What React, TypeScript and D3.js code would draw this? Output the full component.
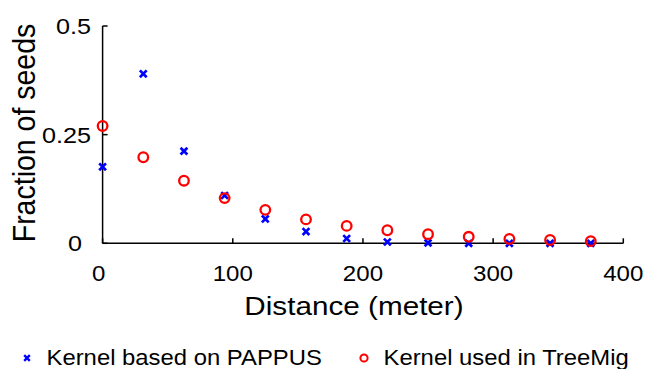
import React from "react";
import * as d3 from "d3";

const distances = [0, 31.25, 62.5, 93.75, 125, 156.25, 187.5, 218.75, 250, 281.25, 312.5, 343.75, 375];
const pappus = [0.176, 0.39, 0.212, 0.11, 0.056, 0.027, 0.011, 0.003, 0.001, 0.0, 0.0, 0.0, 0.0];
const treemig = [0.27, 0.198, 0.144, 0.104, 0.077, 0.055, 0.04, 0.03, 0.021, 0.015, 0.01, 0.0076, 0.005];
const xTicks = [0, 100, 200, 300, 400];
const yTicks = [0, 0.25, 0.5];
const yTickLabels = ["0", "0.25", "0.5"];
const seriesNames = ["Kernel based on PAPPUS", "Kernel used in TreeMig"];

const W = 648, H = 369;
const SX = 1.12;
const font = "'Liberation Sans', Arial, sans-serif";

export default function App() {
  const x = d3.scaleLinear().domain([0, 400]).range([102.6, 623.3]);
  const y = d3.scaleLinear().domain([0, 0.5]).range([243.3, 26]);
  const cross = (cx: number, cy: number, s: number, w: number, key: string) => (
    <path key={key} d={`M${cx - s},${cy - s}L${cx + s},${cy + s}M${cx - s},${cy + s}L${cx + s},${cy - s}`}
      stroke="#0000ff" strokeWidth={w} fill="none" />
  );
  const T = (props: { x: number; y: number; anchor: string; size: number; children: any; rotate?: boolean }) => (
    <text transform={props.rotate ? `translate(${props.x},${props.y}) rotate(-90) scale(1,${SX})` : `translate(${props.x},${props.y}) scale(${SX},1)`}
      textAnchor={props.anchor} fontSize={props.size} fontFamily={font} fill="#000">{props.children}</text>
  );
  return (
    <svg width={W} height={H} style={{ position: "absolute", left: 0, top: 0, background: "#fff" }}>
      <rect width={W} height={H} fill="#fff" />
      <line x1={x(0)} x2={x(400)} y1={y(0)} y2={y(0)} stroke="#000" strokeWidth={1.5} />
      <line x1={x(0)} x2={x(0)} y1={y(0)} y2={y(0.5)} stroke="#000" strokeWidth={1.5} />
      {xTicks.map((t) => (
        <line key={"xt" + t} x1={x(t)} x2={x(t)} y1={y(0)} y2={y(0) - 5} stroke="#000" strokeWidth={1.5} />
      ))}
      {yTicks.map((t) => (
        <line key={"yt" + t} x1={x(0)} x2={x(0) + 5} y1={y(t)} y2={y(t)} stroke="#000" strokeWidth={1.5} />
      ))}
      {xTicks.map((t) => (
        <T key={"xl" + t} x={x(t) - (t === 0 ? 4 : 0)} y={281} anchor="middle" size={21.5}>{String(t)}</T>
      ))}
      {yTicks.map((t, i) => (
        <T key={"yl" + t} x={t === 0 ? 82 : 91} y={y(t) + 8} anchor="end" size={22.5}>{yTickLabels[i]}</T>
      ))}
      <T x={354} y={315} anchor="middle" size={26.5}>Distance (meter)</T>
      <T x={35} y={133} anchor="middle" size={28.5} rotate>Fraction of seeds</T>
      {distances.map((d, i) => cross(x(d), y(pappus[i]), 3.4, 2.7, "p" + i))}
      {distances.map((d, i) => (
        <circle key={"t" + i} cx={x(d)} cy={y(treemig[i])} r={4.8} fill="none" stroke="#ff0000" strokeWidth={2.3} />
      ))}
      {cross(27, 358, 2.8, 2.4, "lg1")}
      <T x={46.5} y={365} anchor="start" size={21.3}>{seriesNames[0]}</T>
      <circle cx={364} cy={358} r={3.6} fill="none" stroke="#ff0000" strokeWidth={2} />
      <T x={383.5} y={365} anchor="start" size={21.3}>{seriesNames[1]}</T>
    </svg>
  );
}
